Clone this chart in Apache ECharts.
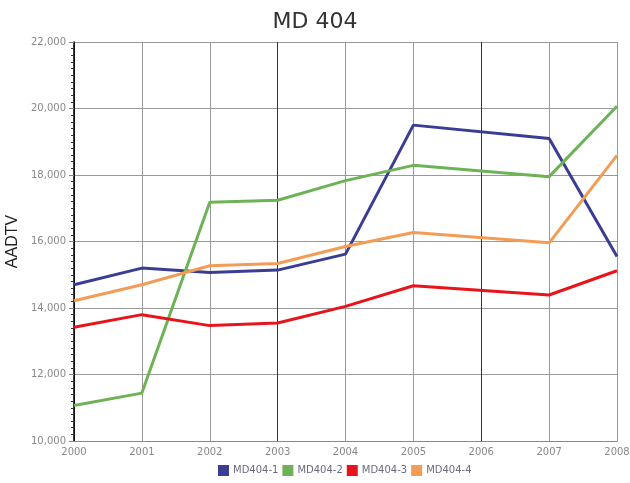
<!DOCTYPE html>
<html>
<head>
<meta charset="utf-8">
<script src="https://cdn.jsdelivr.net/npm/echarts@6/dist/echarts.min.js"></script>
<style>html,body{margin:0;padding:0;background:#fff}#c{width:630px;height:483px}</style>
</head>
<body>
<div id="c"></div>
<script>
const years = ['2000','2001','2002','2003','2004','2005','2006','2007','2008'];
const md404_1 = [14700, 15200, 15070, 15140, 15620, 19500, null, 19100, 15550];
const md404_2 = [11070, 11440, 17180, 17240, 17830, 18290, null, 17950, 20070];
const md404_3 = [13420, 13800, 13470, 13550, 14050, 14670, null, 14390, 15120];
const md404_4 = [14220, 14700, 15270, 15340, 15850, 16270, null, 15960, 18590];
const seriesNames = ['MD404-1','MD404-2','MD404-3','MD404-4'];
const colors = ['#3b3d94','#6db356','#e8141c','#f39c56'];

const chart = echarts.init(document.getElementById('c'));
const font = 'DejaVu Sans';
const mk = (name, data, color) => ({
  name, type: 'line', data, connectNulls: true, symbol: 'none',
  lineStyle: { color, width: 3 }, itemStyle: { color }
});
chart.setOption({
  animation: false,
  title: {
    text: 'MD 404', left: 'center', top: 6,
    textStyle: { fontFamily: font, fontSize: 22, fontWeight: 'normal', color: '#333' }
  },
  legend: {
    left: 213, top: 460, itemWidth: 11, itemHeight: 11, itemGap: 4,
    icon: 'rect',
    data: seriesNames,
    textStyle: { fontFamily: font, fontSize: 10, color: '#6a6a80', padding: [0,0,0,-1] }
  },
  grid: { left: 74, right: 13, top: 42, bottom: 42, outerBoundsMode: 'none', containLabel: false },
  xAxis: {
    type: 'category', data: years, boundaryGap: false,
    axisLine: { lineStyle: { color: '#888' } },
    axisTick: { show: false },
    axisLabel: { fontFamily: font, fontSize: 10, color: '#888', margin: 6 },
    splitLine: { show: true, lineStyle: { color: ['#333','#999','#999'], width: 1 } }
  },
  yAxis: {
    type: 'value', min: 10000, max: 22000, interval: 2000,
    name: 'AADTV', nameLocation: 'middle', nameGap: 44, nameRotate: 90,
    nameTextStyle: { fontFamily: 'Liberation Sans', fontSize: 16, color: '#222' },
    axisLine: { show: true, lineStyle: { color: '#000', width: 1.5 } },
    axisTick: { show: true, length: 5, lineStyle: { color: '#888' } },
    minorTick: { show: true, splitNumber: 10, length: 3, lineStyle: { color: '#333' } },
    axisLabel: {
      fontFamily: font, fontSize: 10, color: '#888', margin: 8,
      formatter: v => v.toString().replace(/\B(?=(\d{3})+(?!\d))/g, ',')
    },
    splitLine: { show: true, lineStyle: { color: '#999', width: 1 } }
  },
  series: [
    mk(seriesNames[0], md404_1, colors[0]),
    mk(seriesNames[1], md404_2, colors[1]),
    mk(seriesNames[2], md404_3, colors[2]),
    mk(seriesNames[3], md404_4, colors[3])
  ]
});
</script>
</body>
</html>
